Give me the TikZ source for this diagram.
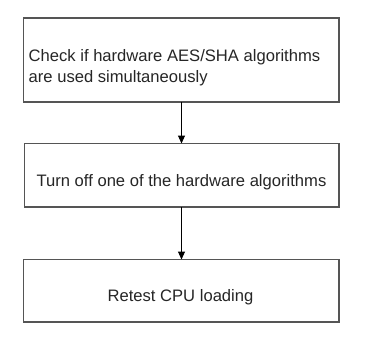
\documentclass[tikz,border=0pt]{standalone}
\usepackage{fontspec}
\setmainfont{Liberation Sans}
\usetikzlibrary{arrows.meta}
\definecolor{boxline}{HTML}{555555}
\definecolor{txt}{HTML}{262626}
\tikzset{
  stepbox/.style={draw=boxline, line width=1.3pt, fill=white},
  lbl/.style={text=txt, font=\fontsize{16.6}{21}\selectfont, inner sep=0pt},
  conn/.style={draw=black, line width=1pt, -{Triangle[width=7pt,length=8pt]}}
}
\begin{document}
\begin{tikzpicture}[x=1pt,y=-1pt]
\useasboundingbox (0,0) rectangle (369,349);
\draw[stepbox] (23.5,18) rectangle (339,102);
\draw[stepbox] (24.5,143.5) rectangle (339,207);
\draw[stepbox] (23.5,259.5) rectangle (339,322);
\coordinate (b1s) at (181.5,102);
\coordinate (b2n) at (181.5,143.5);
\coordinate (b2s) at (181.5,207);
\coordinate (b3n) at (181.5,259.5);
\node[lbl, anchor=west, align=left] (t1) at (28.5,68) {Check if hardware AES/SHA algorithms\\are used simultaneously};
\node[lbl] (t2) at (181.5,182) {Turn off one of the hardware algorithms};
\node[lbl] (t3) at (180.5,297) {Retest CPU loading};
\draw[conn] (b1s) -- (b2n);
\draw[conn] (b2s) -- (b3n);
\end{tikzpicture}
\end{document}
